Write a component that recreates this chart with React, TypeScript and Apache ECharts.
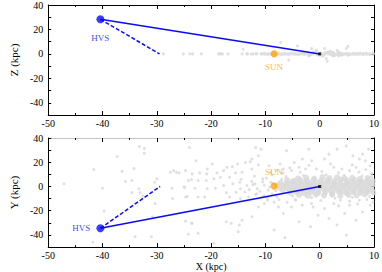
import React, { useEffect, useRef } from "react";
import * as echarts from "echarts";

// ---- data (kpc) ----
const xTickLabels = [-50, -40, -30, -20, -10, 0, 10];
const yTickLabels = [-40, -20, 0, 20, 40];

const hvsTop = [-40.4, 28.3];
const hvsBottom = [-40.4, -34.5];
const dashEndTop = [-29.5, 0];
const dashEndBottom = [-29.4, 0];
const sunTop = [-8.4, 0];
const sunBottom = [-8.4, 0.3];
const galCenter = [0, 0];

// top panel (X-Z) gray stars
const starsTop = [
  [-28.8, 0], [-25.1, 0], [-23.9, 0], [-23.4, 0], [-21.8, 0], [-18.6, 0], [-18.2, 0], [-16.9, 0],
  [-14.3, 0], [-13.4, 0], [-12.3, 0], [-11.6, 0], [-10.8, 0], [-18.4, 0.2], [-17.9, -0.1],
  [-13.3, 0.1], [-12.6, -0.1], [-11.8, 0.1], [-10.6, 0], [-14.1, 3.8],
  [-7.2, 9.3], [-4.1, 6.5], [-5.7, -5.1], [-3.2, 1.6], [-1.5, 4.4], [-0.6, 3.0], [0.9, 4.4],
  [1.2, -3.8], [1.4, -6.0], [2.3, 1.6], [3.2, 3.0], [2.7, -1.6], [5.2, 6.3], [4.9, 4.4],
  [5.2, -1.1], [-2.0, -1.6], [1.9, 2.2], [3.5, -1.6],
  [-1.2, 1.8], [0.5, -1.9], [1.6, 1.4], [2.4, -1.5], [-0.6, 2.2], [3.5, 1.6], [-2, -1.3],
  [1, 1], [0, -1], [4, -1], [-3, 1.2],
];

// top panel thin disc band
const bandTop = [
  [-10.1, 0.1], [-9.5, -0.2], [-8.9, 0.3], [-8.2, -0.1], [-7.6, 0.2], [-7, -0.3], [-6.4, 0.1],
  [-5.8, -0.2], [-5.2, 0.3], [-4.6, 0], [-4, -0.3], [-3.4, 0.4], [-2.8, -0.1], [-2.2, 0.5],
  [-1.6, -0.4], [-1, 0.6], [-0.4, -0.5], [0.2, 0.4], [0.8, -0.6], [1.4, 0.5], [2, -0.3],
  [2.6, 0.4], [3.2, -0.2], [3.8, 0.3], [4.4, -0.1], [5, 0.2], [5.6, -0.2], [6.2, 0.1],
  [6.8, -0.1], [7.4, 0.2], [8, -0.1], [8.6, 0.1], [9.2, -0.2], [9.8, 0.1],
];

// bottom panel (X-Y) sparse gray stars
const starsBottom = [
  [-47.1, 2.2], [-41.6, 13.9], [-37.3, 24.7], [-33.2, 32.9], [-32.3, 31.3], [-32.3, 27.5],
  [-36.4, 12.5], [-34.2, 14.9], [-35.8, 4.1], [-34.6, 4.9], [-33.3, -1.9], [-34.6, -5.1],
  [-33.1, -5.1], [-32.6, -7.9], [-30.0, 6.3], [-30.4, 3.5], [-40.0, -1.4], [-39.7, -20.4],
  [-30.3, -14.1], [-30.8, -25.0], [-34.0, -41.4], [-31.0, -41.4], [-41.8, -46.0],
  [-26.9, 13.1], [-26.4, 11.7], [-23.5, 10.4], [-27.2, -1.4], [-24.9, -0.6], [-24.4, -8.2],
  [-27.1, -10.0], [-24.7, -28.6], [-23.5, -30.4], [-24.2, -39.4], [-22.4, -38.6],
  [-24.0, 32.1], [-22.8, 21.2], [-23.6, 5.7],
  [-27.5, 11.7], [-25.9, 11.2], [-24.7, 13.1], [-22.1, 11.2], [-20.8, 10.4], [-20.7, 14.4],
  [-19.8, 18.5], [-18.9, 11.2], [-17.7, 13.1], [-17.1, 15.8], [-16.1, 16.3], [-15.1, 18.5],
  [-13.7, 19.8], [-12.5, 22.6], [-11.3, 25.3], [-10.8, 30.8], [-11.8, 32.1], [-12.8, 20.4],
  [-11.3, 17.7], [-12.5, 14.4], [-14.3, 11.7], [-15.5, 11.2], [-16.6, 7.6], [-18.3, 7.6],
  [-19.5, 6.3], [-20.9, 4.9], [-22.4, 4.9], [-24.2, 4.9], [-25.0, -0.6], [-23.0, -1.4],
  [-20.7, -1.9], [-19.2, -1.4], [-17.7, 0.8], [-16.0, 2.2], [-14.7, 3.5], [-13.4, 0.8],
  [-11.9, 2.2], [-10.5, 6.3], [-14.6, -1.9], [-15.4, -4.7], [-17.2, -5.1], [-16.6, -8.7],
  [-14.6, -10.0], [-13.1, -8.7], [-11.6, -6.0], [-10.5, -8.7], [-22.4, -8.7], [-21.2, -8.7],
  [-24.7, -8.7], [-12.5, -25.0], [-14.3, -27.8], [-14.8, -31.8], [-15.0, -37.3],
  [-17.2, -29.1], [-16.3, -30.4], [-19.5, -46.8], [-23.6, -30.4], [-11.3, -16.9],
  [-10.2, -14.1], [-9.6, -11.4],
  [-7.3, 18.5], [-6.1, 29.4], [-4.7, 19.8], [-3.2, 22.6], [-2.0, 30.8], [-1.5, 21.2],
  [0.9, 22.6], [1.7, 26.7], [3.2, 30.8], [4.9, 33.5], [6.1, 25.3], [7.3, 22.6], [7.9, 26.7],
  [9.0, 30.8], [8.4, 21.2], [9.3, 17.1], [-9.3, 17.1], [-9.0, 11.7], [-6.7, 14.4],
  [-5.2, 13.1], [-3.8, 15.8], [-2.6, 14.4], [-0.6, 14.4], [2.6, 15.8], [4.1, 14.4],
  [5.5, 13.1], [6.7, 15.8],
  [-8.4, -12.8], [-7.6, -16.9], [-6.7, -22.3], [-8.4, -35.9], [-6.4, -42.2], [-3.8, -29.1],
  [-1.7, -33.2], [-0.3, -23.7], [0.9, -18.2], [1.7, -26.4], [3.2, -31.8], [4.6, -22.3],
  [4.9, -40.0], [6.7, -27.8], [7.9, -21.0], [9.3, -15.5], [-5.2, -16.9], [-3.2, -15.5],
  [-1.5, -14.1], [2.6, -14.1], [5.5, -15.5], [-4.4, -11.4], [3.8, -11.4], [7.3, -11.4],
  [-9.5, -3], [-8.8, -6.2], [-7.9, -8.5], [-9, 3.5], [-10.2, 1], [-11.5, -1.8], [-12.5, 4.2],
  [-7.5, -11], [-6, -13], [-9.6, -9.5], [-11.8, -6.5], [-13.8, -4.5], [-12, 8.5], [-14.5, 6],
  [-8, 13], [-5.5, 15.5], [-2, 17.5], [2, 18.5], [6, 17.8], [8.5, 14], [9.8, -12.8],
  [7, -14.5], [3.5, -16], [-1.2, -17],
  [-8.6, 2.4], [-9.2, -0.5], [-8.1, -3.6], [-7, 5.9], [-6.2, 8.3], [-3, 9.1], [1.2, 9.6],
  [4.5, 9.3], [7.8, 8.7], [9.5, 8.1], [-5, -7.8], [-1.5, -9.2], [2.8, -9.6], [6, -9.1],
  [9.2, -8.2], [-10.5, 3.8], [-9.8, 6.9], [-11, -4.2], [-10.2, -7.5], [-8.8, 9.5],
  [-12.3, 1.5], [-13, -2.6], [-6.8, 11.2], [-3.6, 11.8], [0.4, 12.3], [3.5, 11.4],
  [7.2, 11.9], [9.6, 10.6], [-4.5, -10.8], [0.2, -11.5], [5.5, -12.1], [8.7, -10.7],
];

// bottom panel dense disc core
const coreBottom = [
  [-4, 6.8], [-2.5, 7.4], [-1, 6.5], [0.5, 7.8], [1.8, 6.9], [3.2, 7.5], [4.6, 6.6], [6, 7.2], [7.4, 6.4], [8.8, 6.9],
  [-6, 5.2], [-4.8, 4.6], [-3.6, 5.5], [-2.3, 4.8], [-1.1, 5.6], [0.2, 4.7], [1.4, 5.3], [2.7, 4.5], [3.9, 5.8],
  [5.1, 4.9], [6.4, 5.4], [7.6, 4.6], [8.9, 5.2], [9.8, 4.4],
  [-7.2, 3.1], [-6.1, 2.6], [-5, 3.4], [-3.9, 2.8], [-2.8, 3.5], [-1.7, 2.5], [-0.6, 3.3], [0.5, 2.7], [1.6, 3.6],
  [2.7, 2.9], [3.8, 3.2], [4.9, 2.6], [6, 3.4], [7.1, 2.8], [8.2, 3.3], [9.3, 2.7],
  [-7.8, 1.2], [-6.7, 0.6], [-5.6, 1.4], [-4.5, 0.8], [-3.4, 1.5], [-2.3, 0.7], [-1.2, 1.3], [-0.1, 0.5], [1, 1.4],
  [2.1, 0.8], [3.2, 1.2], [4.3, 0.6], [5.4, 1.5], [6.5, 0.9], [7.6, 1.3], [8.7, 0.7], [9.7, 1.1],
  [-7.4, -1.1], [-6.3, -0.6], [-5.2, -1.4], [-4.1, -0.8], [-3, -1.3], [-1.9, -0.5], [-0.8, -1.2], [0.3, -0.7],
  [1.4, -1.5], [2.5, -0.9], [3.6, -1.3], [4.7, -0.6], [5.8, -1.2], [6.9, -0.8], [8, -1.4], [9.1, -0.9],
  [-6.8, -3.2], [-5.7, -2.7], [-4.6, -3.4], [-3.5, -2.6], [-2.4, -3.5], [-1.3, -2.8], [-0.2, -3.3], [0.9, -2.6],
  [2, -3.4], [3.1, -2.9], [4.2, -3.6], [5.3, -2.7], [6.4, -3.3], [7.5, -2.8], [8.6, -3.5], [9.6, -2.9],
  [-5.5, -5.1], [-4.2, -4.6], [-2.9, -5.5], [-1.6, -4.7], [-0.3, -5.4], [1, -4.8], [2.3, -5.6], [3.6, -4.6],
  [4.9, -5.3], [6.2, -4.7], [7.5, -5.2], [8.8, -4.6], [9.9, -5],
  [-3.8, -6.9], [-2.2, -7.6], [-0.7, -6.7], [0.8, -7.5], [2.3, -6.8], [3.8, -7.7], [5.3, -6.9], [6.8, -7.4], [8.3, -6.6],
];

const GRAY = "#d8d8d8";
const BLUE = "#0a0aff";
const ORANGE = "#ffa500";
const FONT = "Liberation Serif";

function xAxis(gridIndex: number, position: "top" | "bottom", labels: boolean, lineColor: string, name?: string) {
  return {
    type: "value",
    gridIndex,
    position,
    min: -50,
    max: 10,
    interval: 10,
    name: name || "",
    nameLocation: "middle",
    nameGap: 12,
    nameTextStyle: { fontFamily: FONT, fontSize: 10, fontWeight: "normal", color: "#000" },
    axisLine: { show: true, onZero: false, lineStyle: { color: lineColor, width: 1 } },
    axisTick: { show: true, inside: true, length: 4, lineStyle: { color: "#000" } },
    minorTick: { show: true, splitNumber: 2, length: 2, lineStyle: { color: "#000" } },
    splitLine: { show: false },
    axisLabel: {
      show: labels,
      fontFamily: FONT,
      fontSize: 10,
      color: "#000",
      margin: 3,
      formatter: (v: number) => (xTickLabels.includes(v) ? String(v) : ""),
    },
  };
}

function yAxis(gridIndex: number, position: "left" | "right", labels: boolean, name?: string) {
  return {
    type: "value",
    gridIndex,
    position,
    min: -50,
    max: 40,
    interval: 10,
    name: name || "",
    nameLocation: "middle",
    nameGap: 25,
    nameTextStyle: { fontFamily: FONT, fontSize: 11, fontWeight: "normal", color: "#000" },
    axisLine: { show: true, onZero: false, lineStyle: { color: "#000", width: 1 } },
    axisTick: { show: true, inside: true, length: 3, lineStyle: { color: "#000" } },
    splitLine: { show: false },
    axisLabel: {
      show: labels,
      fontFamily: FONT,
      fontSize: 10,
      color: "#000",
      margin: 5,
      formatter: (v: number) => (yTickLabels.includes(v) ? String(v) : ""),
    },
  };
}

function scatter(idx: number, data: number[][], size: number) {
  return {
    type: "scatter",
    xAxisIndex: idx * 2,
    yAxisIndex: idx * 2,
    data,
    symbolSize: size,
    itemStyle: { color: GRAY },
    silent: true,
  };
}

function panelSeries(idx: number, layers: any[], hvs: number[], dashEnd: number[], sun: number[], top: boolean) {
  return [
    ...layers,
    {
      type: "line",
      xAxisIndex: idx * 2,
      yAxisIndex: idx * 2,
      data: [hvs, galCenter],
      symbol: "none",
      lineStyle: { color: BLUE, width: 1.5 },
      z: 3,
    },
    {
      type: "line",
      xAxisIndex: idx * 2,
      yAxisIndex: idx * 2,
      data: [hvs, dashEnd],
      symbol: "none",
      lineStyle: { color: BLUE, width: 1.5, type: [4, 2] },
      z: 3,
    },
    {
      type: "scatter",
      xAxisIndex: idx * 2,
      yAxisIndex: idx * 2,
      data: [hvs],
      symbolSize: 8,
      itemStyle: { color: BLUE },
      z: 4,
      label: {
        show: true,
        formatter: "HVS",
        position: top ? "bottom" : "left",
        distance: top ? 10 : 6,
        fontFamily: FONT,
        fontSize: 9,
        color: BLUE,
      },
    },
    {
      type: "scatter",
      xAxisIndex: idx * 2,
      yAxisIndex: idx * 2,
      data: [sun],
      symbolSize: 7,
      itemStyle: { color: ORANGE },
      z: 4,
      label: {
        show: true,
        formatter: "SUN",
        position: top ? "bottom" : "top",
        distance: top ? 5 : 6,
        fontFamily: FONT,
        fontSize: 9,
        color: ORANGE,
      },
    },
    {
      type: "scatter",
      xAxisIndex: idx * 2,
      yAxisIndex: idx * 2,
      data: [galCenter],
      symbol: "rect",
      symbolSize: 3,
      itemStyle: { color: "#000" },
      z: 5,
    },
  ];
}

const option: any = {
  animation: false,
  backgroundColor: "#fff",
  grid: [
    { left: 31, top: 5, width: 344, height: 110 },
    { left: 31, top: 138, width: 344, height: 110 },
  ],
  xAxis: [
    xAxis(0, "bottom", true, "#000"),
    xAxis(0, "top", false, "#000"),
    xAxis(1, "bottom", true, "#000", "X (kpc)"),
    xAxis(1, "top", false, "#c4c4c4"),
  ],
  yAxis: [
    yAxis(0, "left", true, "Z (kpc)"),
    yAxis(0, "right", false),
    yAxis(1, "left", true, "Y (kpc)"),
    yAxis(1, "right", false),
  ],
  series: [
    ...panelSeries(0, [scatter(0, starsTop, 3), scatter(0, bandTop, 4)], hvsTop, dashEndTop, sunTop, true),
    ...panelSeries(1, [scatter(1, starsBottom, 3), scatter(1, coreBottom, 6)], hvsBottom, dashEndBottom, sunBottom, false),
  ],
};

export default function App() {
  const ref = useRef<HTMLDivElement>(null);
  useEffect(() => {
    const chart = echarts.init(ref.current as HTMLDivElement, null, { renderer: "svg" });
    chart.setOption(option);
    return () => chart.dispose();
  }, []);
  return <div ref={ref} style={{ position: "absolute", left: 0, top: 0, width: 382, height: 272 }} />;
}
